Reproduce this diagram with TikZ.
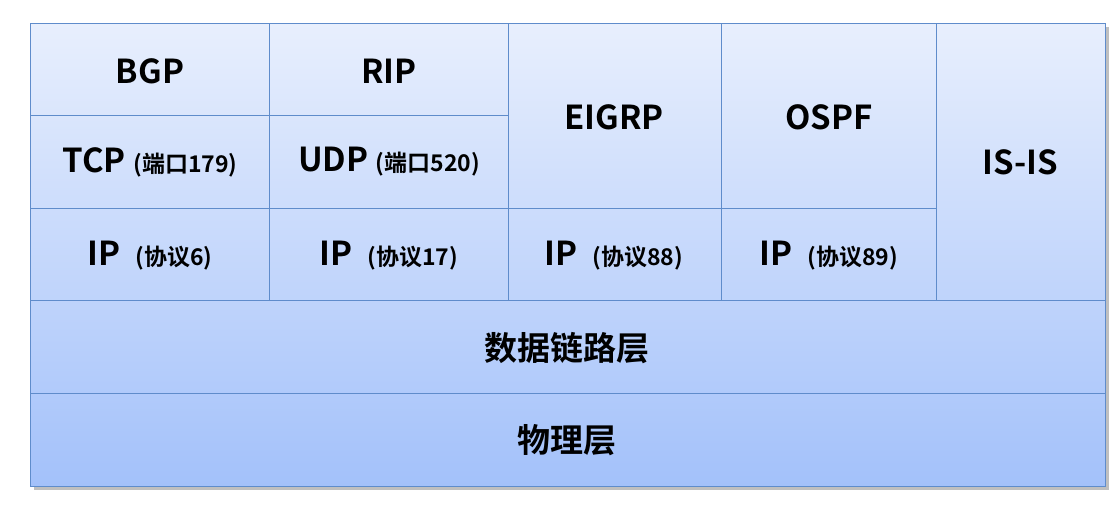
\documentclass[tikz,border=0pt]{standalone}
\usepackage{fontspec}
\setmainfont{Noto Sans CJK SC}[BoldFont={* Bold}]
\definecolor{topc}{HTML}{E8EFFD}
\definecolor{botc}{HTML}{A3C1FA}
\definecolor{linec}{HTML}{5F8CCB}
\newcommand{\bigf}{\bfseries\fontsize{33}{36}\selectfont}
\newcommand{\smallf}{\bfseries\fontsize{23}{26}\selectfont}
\tikzset{big/.style={font=\bigf},
grid/.style={draw=linec,line width=0.9pt}}
\begin{document}
\begin{tikzpicture}[x=1pt,y=-1pt]
\useasboundingbox (0,0) rectangle (1118,506);
\fill[black!25] (34,27) rectangle (1109,490);
\shade[top color=topc,bottom color=botc] (30,23) rectangle (1105,486);
\draw[grid] (30,23) rectangle (1105,486);
\draw[grid] (269,23) -- (269,300);
\draw[grid] (508,23) -- (508,300);
\draw[grid] (721,23) -- (721,300);
\draw[grid] (936,23) -- (936,300);
\draw[grid] (30,115) -- (508,115);
\draw[grid] (30,208) -- (936,208);
\draw[grid] (30,300) -- (1105,300);
\draw[grid] (30,393) -- (1105,393);
\node[big] (bgp) at (150,71) {BGP};
\node[big] (rip) at (389,71) {RIP};
\node[big] (eigrp) at (614,117) {EIGRP};
\node[big] (ospf) at (829,117) {OSPF};
\node[big] (isis) at (1020,162) {IS-IS};
\node (tcp) at (150,162) {\bigf TCP \smallf(端口179)};
\node (udp) at (389,162) {\bigf UDP \smallf(端口520)};
\node (ip1) at (150,256) {\bigf IP\ \ \smallf(协议6)};
\node (ip2) at (389,256) {\bigf IP\ \ \smallf(协议17)};
\node (ip3) at (614,256) {\bigf IP\ \ \smallf(协议88)};
\node (ip4) at (829,256) {\bigf IP\ \ \smallf(协议89)};
\node[big] (dl) at (567,348) {数据链路层};
\node[big] (ph) at (567,440) {物理层};
\end{tikzpicture}
\end{document}
